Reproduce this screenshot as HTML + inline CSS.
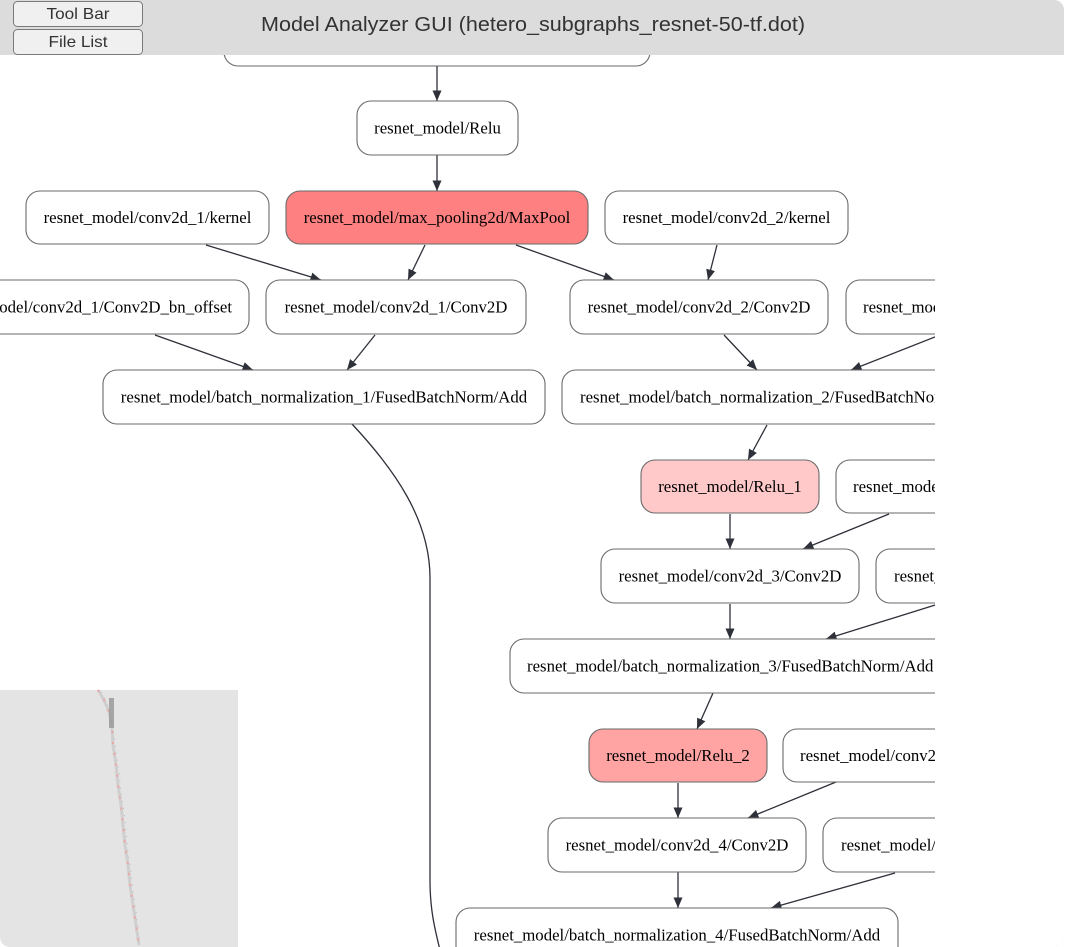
<!DOCTYPE html>
<html><head><meta charset="utf-8"><style>
html,body{margin:0;padding:0;background:#fff;width:1065px;height:947px;overflow:hidden}
#wrap{position:absolute;left:0;top:0;width:1064px;height:947px;border-radius:0 10px 10px 10px;overflow:hidden;box-shadow:inset -1px 0 0 #e6e6e6}
svg{display:block}
.n{stroke:#6a6a6a;stroke-width:1.1}
.t{font-family:"Liberation Serif","Times New Roman",serif;font-size:16.8px;fill:#000}
.e{stroke:#2e3139;stroke-width:1.3;fill:none}
</style></head><body><div id="wrap">
<svg width="1065" height="947" viewBox="0 0 1065 947" xmlns="http://www.w3.org/2000/svg">
<defs>
<marker id="a" markerUnits="userSpaceOnUse" markerWidth="11" markerHeight="9" refX="10.5" refY="4.5" orient="auto">
<path d="M0,0 L10.5,4.5 L0,9 z" fill="#2e3139"/>
</marker>
<clipPath id="g"><rect x="0" y="0" width="935" height="947"/></clipPath>
</defs>
<rect width="1065" height="947" fill="#fff"/>
<g clip-path="url(#g)">
<!-- edges -->
<path class="e" marker-end="url(#a)" d="M437,66 L437,101"/>
<path class="e" marker-end="url(#a)" d="M437,155 L437,191"/>
<path class="e" marker-end="url(#a)" d="M206,245 L321,280"/>
<path class="e" marker-end="url(#a)" d="M425,245 L408,280"/>
<path class="e" marker-end="url(#a)" d="M516,245 L614,280"/>
<path class="e" marker-end="url(#a)" d="M717,245 L708,280"/>
<path class="e" marker-end="url(#a)" d="M155,335 L253,370"/>
<path class="e" marker-end="url(#a)" d="M375,335 L347,370"/>
<path class="e" marker-end="url(#a)" d="M724,335 L757,370"/>
<path class="e" marker-end="url(#a)" d="M945,333 L851,370"/>
<path class="e" marker-end="url(#a)" d="M767,425 L748,460"/>
<path class="e" marker-end="url(#a)" d="M730,514 L730,549"/>
<path class="e" marker-end="url(#a)" d="M889,514 L803,549"/>
<path class="e" marker-end="url(#a)" d="M730,604 L730,639"/>
<path class="e" marker-end="url(#a)" d="M945,602 L826,639"/>
<path class="e" marker-end="url(#a)" d="M713,693 L697,729"/>
<path class="e" marker-end="url(#a)" d="M678,783 L678,818"/>
<path class="e" marker-end="url(#a)" d="M836,782 L748,818"/>
<path class="e" marker-end="url(#a)" d="M678,872 L678,908"/>
<path class="e" marker-end="url(#a)" d="M895,873 L771,908"/>
<path class="e" d="M352,424 C395,470 430,520 430,578 L430,880 C430,908 434,926 440,950"/>
<!-- nodes -->
<rect class="n" x="224" y="10" width="426" height="56" rx="14" fill="#fff"/>
<text class="t" x="437" y="42" text-anchor="middle">resnet_model/batch_normalization/FusedBatchNorm/Add</text>
<rect class="n" x="357" y="101" width="161" height="54" rx="14" fill="#fff"/>
<text class="t" x="437.5" y="133.5" text-anchor="middle">resnet_model/Relu</text>
<rect class="n" x="26" y="191" width="243" height="53" rx="14" fill="#fff"/>
<text class="t" x="147.5" y="223" text-anchor="middle">resnet_model/conv2d_1/kernel</text>
<rect class="n" x="286" y="191" width="302" height="53" rx="14" fill="#ff8080"/>
<text class="t" x="437" y="223" text-anchor="middle">resnet_model/max_pooling2d/MaxPool</text>
<rect class="n" x="605" y="191" width="243" height="53" rx="14" fill="#fff"/>
<text class="t" x="726.5" y="223" text-anchor="middle">resnet_model/conv2d_2/kernel</text>
<rect class="n" x="-89" y="280" width="338" height="54" rx="14" fill="#fff"/>
<text class="t" x="232" y="312.5" text-anchor="end">resnet_model/conv2d_1/Conv2D_bn_offset</text>
<rect class="n" x="266" y="280" width="260" height="54" rx="14" fill="#fff"/>
<text class="t" x="396" y="312.5" text-anchor="middle">resnet_model/conv2d_1/Conv2D</text>
<rect class="n" x="570" y="280" width="258" height="54" rx="14" fill="#fff"/>
<text class="t" x="699" y="312.5" text-anchor="middle">resnet_model/conv2d_2/Conv2D</text>
<rect class="n" x="846" y="280" width="330" height="54" rx="14" fill="#fff"/>
<text class="t" x="863" y="312.5">resnet_model/conv2d_2/Conv2D_bn_offset</text>
<rect class="n" x="103" y="370" width="442" height="54" rx="14" fill="#fff"/>
<text class="t" x="324" y="402.5" text-anchor="middle">resnet_model/batch_normalization_1/FusedBatchNorm/Add</text>
<rect class="n" x="562" y="370" width="442" height="54" rx="14" fill="#fff"/>
<text class="t" x="580" y="402.5">resnet_model/batch_normalization_2/FusedBatchNorm/Add</text>
<rect class="n" x="641" y="460" width="178" height="53" rx="14" fill="#ffc9c9"/>
<text class="t" x="730" y="492" text-anchor="middle">resnet_model/Relu_1</text>
<rect class="n" x="836" y="460" width="300" height="53" rx="14" fill="#fff"/>
<text class="t" x="853" y="492">resnet_model/conv2d_3/kernel</text>
<rect class="n" x="601" y="549" width="258" height="54" rx="14" fill="#fff"/>
<text class="t" x="730" y="581.5" text-anchor="middle">resnet_model/conv2d_3/Conv2D</text>
<rect class="n" x="876" y="549" width="330" height="54" rx="14" fill="#fff"/>
<text class="t" x="894" y="581.5">resnet_model/conv2d_3/Conv2D_bn_offset</text>
<rect class="n" x="510" y="639" width="442" height="54" rx="14" fill="#fff"/>
<text class="t" x="527" y="671.5">resnet_model/batch_normalization_3/FusedBatchNorm/Add</text>
<rect class="n" x="589" y="729" width="178" height="53" rx="14" fill="#ffa3a3"/>
<text class="t" x="678" y="761" text-anchor="middle">resnet_model/Relu_2</text>
<rect class="n" x="783" y="729" width="300" height="53" rx="14" fill="#fff"/>
<text class="t" x="800" y="761">resnet_model/conv2d_4/kernel</text>
<rect class="n" x="548" y="818" width="258" height="54" rx="14" fill="#fff"/>
<text class="t" x="677" y="850.5" text-anchor="middle">resnet_model/conv2d_4/Conv2D</text>
<rect class="n" x="823" y="818" width="330" height="54" rx="14" fill="#fff"/>
<text class="t" x="841" y="850.5">resnet_model/conv2d_4/Conv2D_bn_offset</text>
<rect class="n" x="456" y="908" width="442" height="60" rx="14" fill="#fff"/>
<text class="t" x="677" y="940.5" text-anchor="middle">resnet_model/batch_normalization_4/FusedBatchNorm/Add</text>
</g>
<!-- minimap -->
<rect x="0" y="690" width="238" height="257" fill="#e4e4e4"/>
<polyline points="98,690 104,700 109,712 112,728 113,745 116,765 118,785 121,805 123,825 125,845 128,865 130,885 133,905 136,925 139,945" fill="none" stroke="#cfcfcf" stroke-width="3"/>
<polyline points="98,690 104,700 109,712 112,728 113,745 116,765 118,785 121,805 123,825 125,845 128,865 130,885 133,905 136,925 139,945" fill="none" stroke="#f0a4a4" stroke-width="2" stroke-dasharray="2 9"/>
<polyline points="101,692 107,704 111,718 114,735 116,752 119,772 121,792 124,812 126,832 128,852 131,872 133,892 136,912 139,932" fill="none" stroke="#b8b8b8" stroke-width="1" stroke-dasharray="1 6"/>
<rect x="109" y="698" width="5" height="30" fill="#9a9a9a" opacity="0.85"/>
<!-- header -->
<rect x="0" y="0" width="1065" height="55" fill="#dcdcdc"/>
<rect x="13.5" y="1.5" width="129" height="25" rx="4" fill="#f0f0f0" stroke="#7a7a7a" stroke-width="1"/>
<rect x="13.5" y="29.5" width="129" height="25" rx="4" fill="#f0f0f0" stroke="#7a7a7a" stroke-width="1"/>
<text x="78" y="19" text-anchor="middle" font-family="Liberation Sans, DejaVu Sans, sans-serif" font-size="16" fill="#333" textLength="63" lengthAdjust="spacingAndGlyphs">Tool Bar</text>
<text x="78" y="47" text-anchor="middle" font-family="Liberation Sans, DejaVu Sans, sans-serif" font-size="16" fill="#333" textLength="59" lengthAdjust="spacingAndGlyphs">File List</text>
<text x="261" y="31" font-family="Liberation Sans, DejaVu Sans, sans-serif" font-size="20.5" fill="#333" textLength="544" lengthAdjust="spacingAndGlyphs">Model Analyzer GUI (hetero_subgraphs_resnet-50-tf.dot)</text>
</svg>
</div></body></html>
